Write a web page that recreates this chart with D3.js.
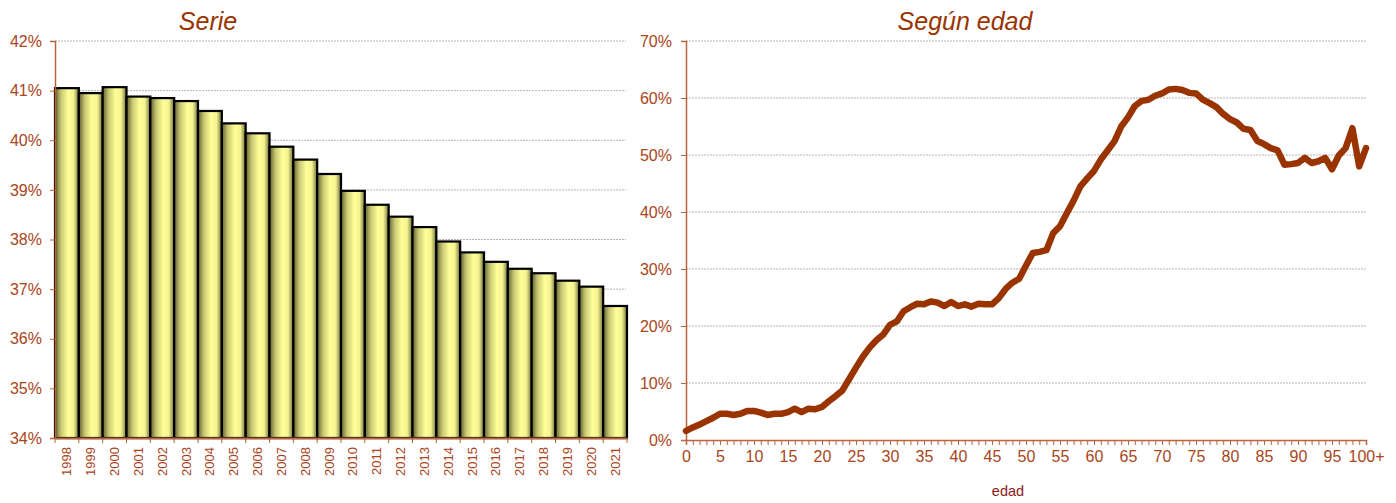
<!DOCTYPE html>
<html>
<head>
<meta charset="utf-8">
<script src="https://cdn.jsdelivr.net/npm/d3@7"></script>
<style>
  body { margin: 0; background: #fff; }
  svg { font-family: "Liberation Sans", Arial, sans-serif; display: block; }
</style>
</head>
<body>
<svg id="vis"></svg>
<script>
// data for the left chart (yearly series)
var years = ["1998","1999","2000","2001","2002","2003","2004","2005","2006","2007","2008","2009",
             "2010","2011","2012","2013","2014","2015","2016","2017","2018","2019","2020","2021"];
var serieValues = [41.05, 40.95, 41.07, 40.88, 40.85, 40.79, 40.59, 40.34, 40.14, 39.87, 39.61, 39.32,
                   38.98, 38.70, 38.46, 38.25, 37.96, 37.74, 37.55, 37.41, 37.32, 37.17, 37.05, 36.66];
var serieTicks = [34, 35, 36, 37, 38, 39, 40, 41, 42];

// data for the right chart (by age, 0..100+)
var ages = d3.range(0, 101);
var edadValues = [1.6, 2.2, 2.7, 3.3, 3.9, 4.6, 4.6, 4.4, 4.6, 5.1,
                  5.1, 4.8, 4.4, 4.6, 4.6, 4.9, 5.5, 4.9, 5.5, 5.4,
                  5.8, 6.8, 7.7, 8.7, 10.7, 12.7, 14.6, 16.2, 17.5, 18.5,
                  20.2, 20.8, 22.6, 23.3, 23.9, 23.8, 24.3, 24.1, 23.5, 24.2,
                  23.5, 23.8, 23.4, 23.9, 23.8, 23.8, 24.9, 26.5, 27.6, 28.3,
                  30.6, 32.8, 33.0, 33.3, 36.3, 37.5, 39.8, 42.0, 44.5, 45.9,
                  47.2, 49.2, 50.8, 52.4, 55.0, 56.6, 58.6, 59.5, 59.7, 60.4,
                  60.8, 61.5, 61.6, 61.4, 60.9, 60.8, 59.7, 59.1, 58.4, 57.2,
                  56.3, 55.7, 54.6, 54.4, 52.5, 51.9, 51.2, 50.8, 48.3, 48.4,
                  48.6, 49.5, 48.6, 48.9, 49.5, 47.5, 49.9, 51.2, 54.7, 48.0, 51.2];
var edadTicks = [0, 10, 20, 30, 40, 50, 60, 70];

var width = 1396, height = 503;
var axisColor = "#b8643c", labelColor = "#a8451a", titleColor = "#993300";

var chart = d3.select("#vis").attr("width", width).attr("height", height);

var defs = chart.append("defs");
var grad = defs.append("linearGradient").attr("id", "barGrad")
  .attr("x1", "0%").attr("x2", "100%").attr("y1", "0%").attr("y2", "0%");
[["0%", "#5e5e30"], ["25%", "#c8c872"], ["55%", "#ffff99"], ["78%", "#f2f290"], ["100%", "#6e6e3a"]]
  .forEach(function(s) { grad.append("stop").attr("offset", s[0]).attr("stop-color", s[1]); });

// ---------- left chart ----------
var left = { x0: 55, x1: 627, y0: 41, y1: 438 };

var xBand = d3.scaleBand().domain(years).range([left.x0, left.x1]).padding(0);
var yLeft = d3.scaleLinear().domain([34, 42]).range([left.y1, left.y0]);

var gL = chart.append("g");

gL.selectAll("line.grid").data(serieTicks.slice(1)).enter().append("line")
  .attr("x1", left.x0).attr("x2", left.x1 - 1)
  .attr("y1", function(d) { return yLeft(d); }).attr("y2", function(d) { return yLeft(d); })
  .attr("stroke", "#b4b4b4").attr("stroke-width", 1).attr("stroke-dasharray", "2,1");

gL.selectAll("rect.bar").data(serieValues).enter().append("rect")
  .attr("x", function(d, i) { return xBand(years[i]); })
  .attr("y", function(d) { return yLeft(d); })
  .attr("width", xBand.bandwidth())
  .attr("height", function(d) { return yLeft(34) - yLeft(d); })
  .attr("fill", "url(#barGrad)")
  .attr("stroke", "#000").attr("stroke-width", 2.2);

var yAxisL = gL.append("g").attr("transform", "translate(" + left.x0 + ",0)")
  .call(d3.axisLeft(yLeft).tickValues(serieTicks).tickSize(5).tickPadding(8)
    .tickFormat(function(d) { return d + "%"; }));
yAxisL.select(".domain").attr("stroke", axisColor).attr("stroke-width", 1.5);
yAxisL.selectAll(".tick line").attr("stroke", axisColor);
yAxisL.selectAll("text").attr("fill", labelColor).attr("font-size", 16);

var xAxisL = gL.append("g").attr("transform", "translate(0," + left.y1 + ")")
  .call(d3.axisBottom(xBand).tickSize(0).tickPadding(0));
xAxisL.select(".domain").attr("stroke", axisColor).attr("stroke-width", 2);
xAxisL.selectAll("text")
  .attr("fill", labelColor).attr("font-size", 13)
  .attr("transform", "rotate(-90)")
  .attr("text-anchor", "end").attr("dy", "0.35em")
  .attr("x", -9).attr("y", 0);
gL.selectAll("line.xtick").data(d3.range(years.length + 1)).enter().append("line")
  .attr("x1", function(i) { return left.x0 + i * xBand.step(); })
  .attr("x2", function(i) { return left.x0 + i * xBand.step(); })
  .attr("y1", left.y1).attr("y2", left.y1 + 5)
  .attr("stroke", axisColor).attr("stroke-width", 1);

gL.append("text").attr("x", 208).attr("y", 30).attr("text-anchor", "middle")
  .attr("font-size", 25).attr("font-style", "italic").attr("fill", titleColor).text("Serie");

// ---------- right chart ----------
var right = { x0: 686, x1: 1366, y0: 41, y1: 440 };

var xAge = d3.scaleLinear().domain([0, 100]).range([right.x0, right.x1]);
var yRight = d3.scaleLinear().domain([0, 70]).range([right.y1, right.y0]);

var gR = chart.append("g");

gR.selectAll("line.grid").data(edadTicks.slice(1)).enter().append("line")
  .attr("x1", right.x0).attr("x2", right.x1)
  .attr("y1", function(d) { return yRight(d); }).attr("y2", function(d) { return yRight(d); })
  .attr("stroke", "#b4b4b4").attr("stroke-width", 1).attr("stroke-dasharray", "2,1");

var yAxisR = gR.append("g").attr("transform", "translate(" + right.x0 + ",0)")
  .call(d3.axisLeft(yRight).tickValues(edadTicks).tickSize(5).tickPadding(9)
    .tickFormat(function(d) { return d + "%"; }));
yAxisR.select(".domain").attr("stroke", axisColor).attr("stroke-width", 1.5);
yAxisR.selectAll(".tick line").attr("stroke", axisColor);
yAxisR.selectAll("text").attr("fill", labelColor).attr("font-size", 16);

var xAxisR = gR.append("g").attr("transform", "translate(0," + right.y1 + ")")
  .call(d3.axisBottom(xAge).tickValues(ages).tickSize(5).tickPadding(6)
    .tickFormat(function(d) { return d % 5 === 0 ? (d === 100 ? "100+" : d) : ""; }));
xAxisR.select(".domain").attr("stroke", axisColor).attr("stroke-width", 1.5);
xAxisR.selectAll(".tick line").attr("stroke", axisColor);
xAxisR.selectAll("text").attr("fill", labelColor).attr("font-size", 16);

var line = d3.line()
  .x(function(d, i) { return xAge(ages[i]); })
  .y(function(d) { return yRight(d); });

gR.append("path").datum(edadValues)
  .attr("d", line)
  .attr("fill", "none").attr("stroke", "#993300").attr("stroke-width", 6.5)
  .attr("stroke-linejoin", "round").attr("stroke-linecap", "round");

gR.append("text").attr("x", 1008).attr("y", 496).attr("text-anchor", "middle")
  .attr("font-size", 14.5).attr("fill", "#8b1a1a").text("edad");

gR.append("text").attr("x", 965).attr("y", 30).attr("text-anchor", "middle")
  .attr("font-size", 25).attr("font-style", "italic").attr("fill", titleColor).text("Según edad");
</script>
</body>
</html>
